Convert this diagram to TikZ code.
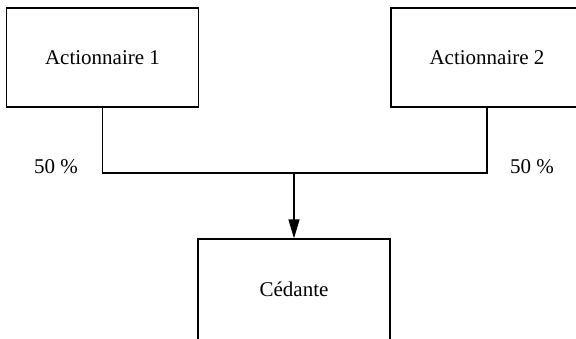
\documentclass[tikz,border=0pt]{standalone}
\usepackage{fontspec}
\setmainfont{Liberation Serif}
\usetikzlibrary{arrows.meta}
\begin{document}
\begin{tikzpicture}[x=1pt,y=-1pt,
  box/.style={draw,line width=1.3pt,minimum width=192pt,minimum height=99pt,inner sep=0pt,font=\fontsize{21}{25}\selectfont},
  link/.style={line width=1.3pt},
  pct/.style={font=\fontsize{21}{25}\selectfont,inner sep=0pt}]
\useasboundingbox (0,0) rectangle (576,338);
\clip (0,0) rectangle (576,338);
\node[box] (a1) at (102.5,57.5) {Actionnaire 1};
\node[box] (a2) at (487,57.5) {Actionnaire 2};
% the lower box runs past the bottom edge of the page
\node[box,minimum height=104pt] (ced) at (294,291) {\raisebox{3pt}{Cédante}};
\coordinate (mid) at (294,173);
\draw[link] (a1.south) |- (mid) -| (a2.south);
\draw[link,-{Triangle[length=19pt,width=11pt]}] (mid) -- (ced.north);
\node[pct] (p1) at (56,166.5) {50 \%};
\node[pct] (p2) at (532,166.5) {50 \%};
\end{tikzpicture}
\end{document}
